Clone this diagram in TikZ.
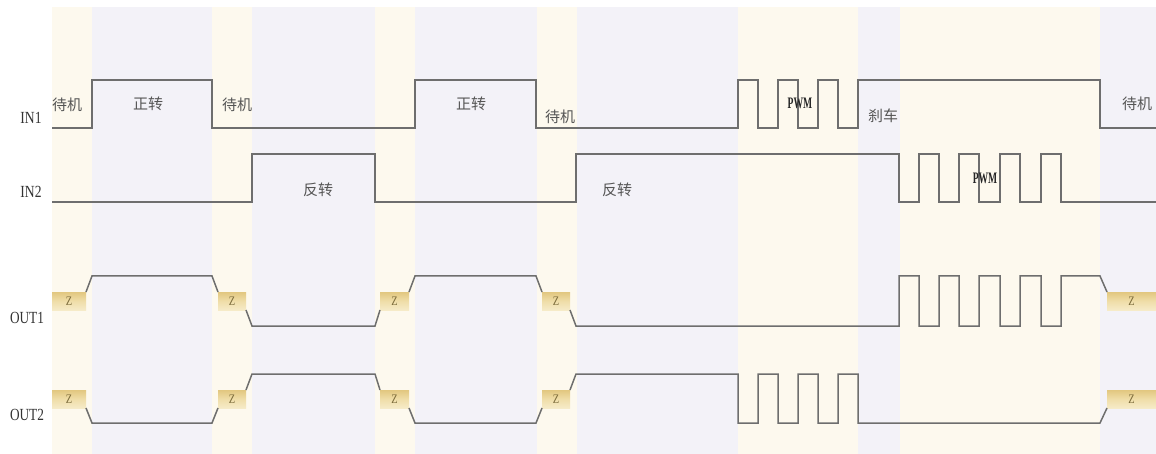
\documentclass[tikz,border=0pt]{standalone}
\usepackage{fontspec}
\usepackage{graphicx}
\setmainfont{Liberation Serif}
\newfontfamily\cjk{Noto Sans CJK SC}
\definecolor{bandy}{HTML}{FDF9EE}
\definecolor{bandl}{HTML}{F3F2F8}
\definecolor{sigc}{HTML}{6E6E6E}
\definecolor{txtc}{HTML}{555555}
\definecolor{zc}{HTML}{7A6A3A}
\newcommand{\narrow}[2]{\scalebox{#1}[1]{#2}}
\begin{document}
\begin{tikzpicture}[x=1pt,y=-1pt,
  sig/.style={draw=sigc,line width=1.5pt,line join=miter},
  zbox/.style={rectangle,inner sep=0pt,outer sep=0pt,minimum height=18pt,
    top color=zgold,bottom color=zlight,middle color=zmid,
    font=\fontsize{13}{13}\selectfont,text=zc},
  lab/.style={font=\fontsize{17}{17}\selectfont,text=black!80,inner sep=0pt},
  cn/.style={font=\cjk\fontsize{15}{15}\selectfont,text=txtc,inner sep=0pt},
  pwm/.style={font=\bfseries\fontsize{16}{16}\selectfont,text=black!85,inner sep=0pt}]
\definecolor{zgold}{HTML}{E2C77F}
\definecolor{zmid}{HTML}{EFDDA8}
\definecolor{zlight}{HTML}{F6EBC8}
\useasboundingbox (0,0) rectangle (1156,454);
\fill[white] (0,0) rectangle (1156,454);
% background bands
\foreach \a/\b in {52/92,212/252,375/415,537/577,738/858,900/1100}
  \fill[bandy] (\a,7) rectangle (\b,454);
\foreach \a/\b in {92/212,252/375,415/537,577/738,858/900,1100/1156}
  \fill[bandl] (\a,7) rectangle (\b,454);
% row labels
\node[lab] (lin1) at (31,118) {\narrow{0.8}{IN1}};
\node[lab] (lin2) at (31,192) {\narrow{0.8}{IN2}};
\node[lab] (lout1) at (27,318) {\narrow{0.78}{OUT1}};
\node[lab] (lout2) at (27,415) {\narrow{0.78}{OUT2}};
% IN1
\draw[sig] (52,128) -- (92,128) -- (92,80) -- (212,80) -- (212,128) -- (415,128) -- (415,80) -- (536,80) -- (536,128)
  -- (738,128) -- (738,80) -- (758,80) -- (758,128) -- (778,128) -- (778,80) -- (798,80) -- (798,128)
  -- (818,128) -- (818,80) -- (838,80) -- (838,128) -- (858,128) -- (858,80) -- (1100,80) -- (1100,128) -- (1156,128);
% IN2
\draw[sig] (52,202) -- (252,202) -- (252,154) -- (375,154) -- (375,202) -- (576,202) -- (576,154) -- (899,154)
  -- (899,202) -- (919,202) -- (919,154) -- (939,154) -- (939,202) -- (959,202) -- (959,154) -- (979,154)
  -- (979,202) -- (1000,202) -- (1000,154) -- (1020,154) -- (1020,202) -- (1041,202) -- (1041,154) -- (1061,154)
  -- (1061,202) -- (1156,202);
% Z boxes OUT1
\node[zbox,minimum width=34pt] (a1) at (69,301) {\narrow{0.8}{Z}};
\node[zbox,minimum width=28pt] (a2) at (232,301) {\narrow{0.8}{Z}};
\node[zbox,minimum width=29pt] (a3) at (394.5,301) {\narrow{0.8}{Z}};
\node[zbox,minimum width=28pt] (a4) at (556,301) {\narrow{0.8}{Z}};
\node[zbox,minimum width=49pt] (a5) at (1131.5,301) {\narrow{0.8}{Z}};
% Z boxes OUT2
\node[zbox,minimum width=34pt] (b1) at (69,399) {\narrow{0.8}{Z}};
\node[zbox,minimum width=28pt] (b2) at (232,399) {\narrow{0.8}{Z}};
\node[zbox,minimum width=29pt] (b3) at (394.5,399) {\narrow{0.8}{Z}};
\node[zbox,minimum width=28pt] (b4) at (556,399) {\narrow{0.8}{Z}};
\node[zbox,minimum width=49pt] (b5) at (1131.5,399) {\narrow{0.8}{Z}};
% OUT1
\draw[sig] (a1.north east) -- (92,276) -- (212,276) -- (a2.north west);
\draw[sig] (a2.south east) -- (252,326) -- (375,326) -- (a3.south west);
\draw[sig] (a3.north east) -- (415,276) -- (536,276) -- (a4.north west);
\draw[sig] (a4.south east) -- (576,326) -- (899,326) -- (899,276) -- (919,276) -- (919,326) -- (939,326) -- (939,276)
  -- (959,276) -- (959,326) -- (979,326) -- (979,276) -- (1000,276) -- (1000,326) -- (1020,326) -- (1020,276)
  -- (1041,276) -- (1041,326) -- (1061,326) -- (1061,276) -- (1100,276) -- (a5.north west);
% OUT2
\draw[sig] (b1.south east) -- (92,423) -- (212,423) -- (b2.south west);
\draw[sig] (b2.north east) -- (252,374) -- (375,374) -- (b3.north west);
\draw[sig] (b3.south east) -- (415,423) -- (536,423) -- (b4.south west);
\draw[sig] (b4.north east) -- (576,374) -- (738,374) -- (738,423) -- (758,423) -- (758,374) -- (778,374) -- (778,423)
  -- (798,423) -- (798,374) -- (818,374) -- (818,423) -- (838,423) -- (838,374) -- (858,374) -- (858,423)
  -- (1100,423) -- (b5.south west);
% state labels
\node[cn] (t1) at (67,105) {待机};
\node[cn] (t2) at (148,104) {正转};
\node[cn] (t3) at (237,105) {待机};
\node[cn] (t4) at (318,190) {反转};
\node[cn] (t5) at (471,104) {正转};
\node[cn] (t6) at (560,117) {待机};
\node[cn] (t7) at (617,190) {反转};
\node[cn] (t8) at (883,116) {刹车};
\node[cn] (t9) at (1137,104) {待机};
\node[pwm] (p1) at (800,103) {\narrow{0.6}{PWM}};
\node[pwm] (p2) at (985,178) {\narrow{0.6}{PWM}};
\end{tikzpicture}
\end{document}
